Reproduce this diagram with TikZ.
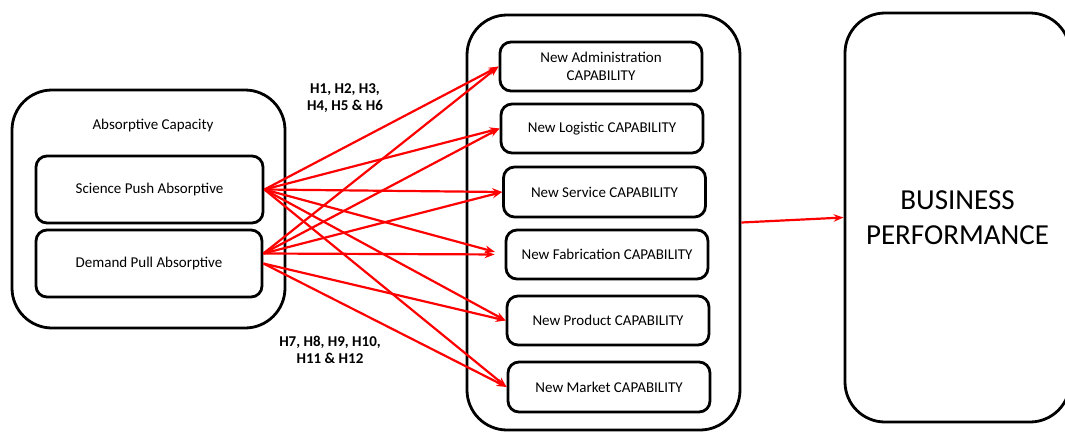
\documentclass[tikz,border=0pt]{standalone}
\usepackage{fontspec}
\setmainfont{Carlito}
\usetikzlibrary{arrows.meta, positioning}
\definecolor{linkred}{HTML}{FF0000}
\definecolor{edgeblack}{HTML}{000000}

\begin{document}
\begin{tikzpicture}[
      x=1pt, y=-1pt,
      every node/.style={text=black},
      outerbox/.style={draw=edgeblack, line width=2.8pt, rounded corners=40pt, inner sep=0pt},
      capbox/.style={draw=edgeblack, line width=2.8pt, rounded corners=11pt, minimum width=202pt,
                     minimum height=49pt, align=center, font=\fontsize{15}{18}\selectfont},
      hyplbl/.style={align=center, font=\fontsize{15}{17}\selectfont\bfseries},
      arr/.style={-{Stealth[length=10pt, width=7.5pt]}, line width=2.2pt, draw=linkred}
    ]
    \useasboundingbox (0,0) rectangle (1065,432);
    % left block
    \node[outerbox, minimum width=273pt, minimum height=238pt] (absorb) at (148.5,209) {};
    \node[font=\fontsize{15}{18}\selectfont] (abslbl) at (153,125) {Absorptive Capacity};
    \node[capbox, minimum width=227pt, minimum height=67pt] (push) at (149.5,189.5) {Science Push Absorptive};
    \node[capbox, minimum width=226pt, minimum height=67pt] (pull) at (149,263.5) {Demand Pull Absorptive};
    % middle block
    \node[outerbox, minimum width=273pt, minimum height=415pt] (newcap) at (603.5,222.5) {};
    \node[capbox] (admin) at (601,66.5)  {New Administration\\CAPABILITY};
    \node[capbox] (logis) at (602,128.5) {New Logistic CAPABILITY};
    \node[capbox, minimum height=50pt] (serv) at (604.5,192) {New Service CAPABILITY};
    \node[capbox] (fabr)  at (607,254.5) {New Fabrication CAPABILITY};
    \node[capbox] (prod)  at (608,320.5) {New Product CAPABILITY};
    \node[capbox, minimum height=50pt] (mark) at (609,387) {New Market CAPABILITY};
    % right block
    \node[outerbox, minimum width=225pt, minimum height=409pt, align=center,
          font=\fontsize{29}{35}\selectfont] (perf) at (957.5,217.5) {BUSINESS\\PERFORMANCE};
    % hypotheses
    \node[hyplbl] (hyptop) at (345,98.5) {H1, H2, H3,\\H4, H5 \& H6};
    \node[hyplbl] (hypbot) at (330,350) {H7, H8, H9, H10,\\H11 \& H12};
    \coordinate (pullup) at ([yshift=10pt]pull.east);
    \foreach \t in {admin,logis,serv,prod,mark}
      \draw[arr] (push.east) -- (\t.west);
    \draw[arr, shorten >=10pt] (push.east) -- (fabr.west);
    \foreach \t in {admin,logis,serv}
      \draw[arr] (pullup) -- (\t.west);
    \draw[arr, shorten >=10pt] (pullup) -- (fabr.west);
    \foreach \t in {prod,mark}
      \draw[arr] (pull.east) -- (\t.west);
    \draw[arr] (newcap.east) -- (perf.west);
  \end{tikzpicture}
\end{document}
